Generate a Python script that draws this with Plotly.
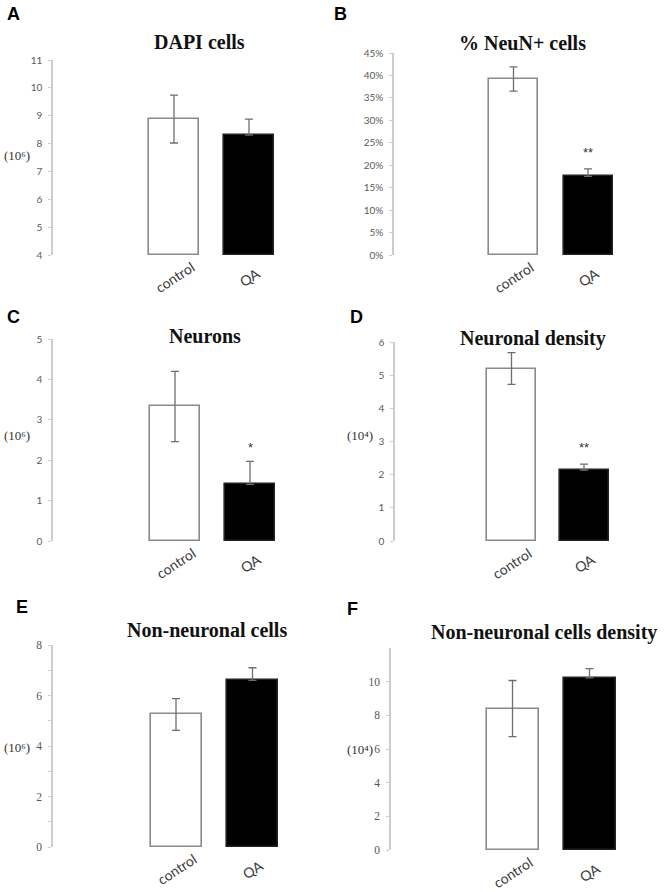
import plotly.graph_objects as go
from plotly.subplots import make_subplots

# ---------------- data ----------------
categories = ["control", "QA"]

dapi_mean = [8.88, 8.30]
dapi_sem = [0.86, 0.58]

neun_pct_mean = [39.2, 17.5]
neun_pct_sem = [2.7, 1.7]

neurons_mean = [3.33, 1.40]
neurons_sem = [0.87, 0.57]

neuronal_density_mean = [5.20, 2.14]
neuronal_density_sem = [0.48, 0.18]

nonneuronal_mean = [5.25, 6.60]
nonneuronal_sem = [0.63, 0.50]

nonneuronal_density_mean = [8.40, 10.22]
nonneuronal_density_sem = [1.67, 0.55]

titles = ["DAPI cells", "% NeuN+ cells", "Neurons", "Neuronal density",
          "Non-neuronal cells", "Non-neuronal cells density"]
letters = ["A", "B", "C", "D", "E", "F"]
units = ["(10⁶)", "", "(10⁶)", "(10⁴)", "(10⁶)", "(10⁴)"]
significance = [["", ""], ["", "**"], ["", "*"], ["", "**"], ["", ""], ["", ""]]

ticks_a = [4, 5, 6, 7, 8, 9, 10, 11]
ticks_b = [0, 5, 10, 15, 20, 25, 30, 35, 40, 45]
ticklabels_b = ["0%", "5%", "10%", "15%", "20%", "25%", "30%", "35%", "40%", "45%"]
ticks_c = [0, 1, 2, 3, 4, 5]
ticks_d = [0, 1, 2, 3, 4, 5, 6]
ticks_e = [0, 2, 4, 6, 8]
ticks_f = [0, 2, 4, 6, 8, 10]

means = [dapi_mean, neun_pct_mean, neurons_mean, neuronal_density_mean,
         nonneuronal_mean, nonneuronal_density_mean]
sems = [dapi_sem, neun_pct_sem, neurons_sem, neuronal_density_sem,
        nonneuronal_sem, nonneuronal_density_sem]
yranges = [[4, 11], [0, 45], [0, 5], [0, 6], [0, 8], [0, 12]]
tickvals = [ticks_a, ticks_b, ticks_c, ticks_d, ticks_e, ticks_f]
ticktexts = [[str(t) for t in ticks_a], ticklabels_b, [str(t) for t in ticks_c],
             [str(t) for t in ticks_d], [str(t) for t in ticks_e], [str(t) for t in ticks_f]]

# ---------------- layout geometry (pixels) ----------------
W, H = 666, 892
# axis_px, right_px, top_px, bottom_px, ctrl_center, qa_center, bar_px
geom = [
    (53, 300, 60, 255, 174, 249, 50),
    (394, 650, 53, 255, 513.5, 588, 49),
    (53, 300, 339, 541, 175, 250, 50),
    (395, 650, 342, 541, 511.5, 584, 49),
    (53, 300, 645, 847, 176, 252.5, 51),
    (391, 650, 648, 850, 512.5, 589.5, 52),
]
letter_pos = [(13, 14), (341, 14), (13, 317), (356, 317), (22, 607), (352, 609)]
title_pos = [(199, 42), (522, 43), (205, 336), (533, 339), (207, 630), (544, 632)]
unit_pos = [(32, 155), None, (32, 435), (375, 435), (32, 747), (375, 749)]
star_shift = [7, 7, 4, 7, 7, 7]
sans_ticks = [True, True, True, True, False, False]

fig = make_subplots(rows=3, cols=2)
annotations = []

for i in range(6):
    r, c = i // 2 + 1, i % 2 + 1
    ax, rp, tp, bp, cc, qc, bw = geom[i]
    gap = qc - cc
    xr = [-(cc - ax) / gap, 1 + (rp - qc) / gap]
    m, s = means[i], sems[i]
    ymin = yranges[i][0]
    lower = [s[k] if categories[k] == "control" else 0 for k in range(2)]
    fig.add_trace(go.Bar(
        x=categories, y=[v - ymin for v in m],
        base=ymin,
        width=bw / gap,
        marker=dict(color=["white", "black"],
                    line=dict(color=["#8a8a8a", "#222222"], width=1.6)),
        error_y=dict(type="data", symmetric=False, array=s, arrayminus=lower,
                     color="#6e6e6e", thickness=1.3, width=4),
        showlegend=False, hoverinfo="skip",
    ), row=r, col=c)

    xname = "xaxis" if i == 0 else f"xaxis{i+1}"
    yname = "yaxis" if i == 0 else f"yaxis{i+1}"
    if sans_ticks[i]:
        tfont = dict(family="Lato, Liberation Sans, sans-serif", size=10, color="#5a5a5a")
    else:
        tfont = dict(family="Liberation Serif, serif", size=11.5, color="#555555")
    yaxis_cfg = dict(
        domain=[1 - bp / H, 1 - tp / H], range=yranges[i], automargin=False,
        showline=True, linecolor="#cccccc", linewidth=1.5,
        ticks="outside", ticklen=3, tickcolor="#cccccc", tickwidth=1.2,
        tickvals=tickvals[i], ticktext=ticktexts[i], tickfont=tfont,
        showgrid=False, zeroline=False, ticklabelstandoff=4,
    )
    if i == 4:
        yaxis_cfg["minor"] = dict(ticks="outside", dtick=1, ticklen=3,
                                  tickcolor="#cccccc", tickwidth=1.2)
    fig.layout[yname].update(yaxis_cfg)
    fig.layout[xname].update(dict(
        domain=[ax / W, rp / W], range=xr, showline=False, showgrid=False,
        zeroline=False, ticks="", automargin=False, showticklabels=False,
    ))

    xref = "x" if i == 0 else f"x{i+1}"
    yref = "y" if i == 0 else f"y{i+1}"
    for k in range(2):
        # rotated category label, centred under its bar (Excel style)
        annotations.append(dict(
            x=categories[k], xref=xref, y=0, yref=f"{yref} domain",
            text=categories[k], showarrow=False, textangle=-33,
            xanchor="center", yanchor="middle", yshift=-22,
            font=dict(family="Lato, Liberation Sans, sans-serif", size=14, color="#3c3c3c"),
        ))
        if significance[i][k]:
            annotations.append(dict(
                x=categories[k], y=m[k] + s[k], xref=xref, yref=yref,
                text=significance[i][k], showarrow=False, yanchor="bottom",
                yshift=star_shift[i],
                font=dict(family="Liberation Sans, Arial, sans-serif", size=13, color="#333333"),
            ))

    lx, ly = letter_pos[i]
    annotations.append(dict(x=lx / W, y=1 - ly / H, xref="paper", yref="paper",
                            text=f"<b>{letters[i]}</b>", showarrow=False,
                            xanchor="center", yanchor="middle",
                            font=dict(family="Liberation Sans, Arial, sans-serif",
                                      size=18, color="black")))
    tx, ty = title_pos[i]
    annotations.append(dict(x=tx / W, y=1 - ty / H, xref="paper", yref="paper",
                            text=f"<b>{titles[i]}</b>", showarrow=False,
                            xanchor="center", yanchor="middle",
                            font=dict(family="Liberation Serif, Times New Roman, serif",
                                      size=20, color="#111111")))
    if unit_pos[i]:
        ux, uy = unit_pos[i]
        annotations.append(dict(x=ux / W, y=1 - uy / H, xref="paper", yref="paper",
                                text=units[i], showarrow=False,
                                xanchor="right", yanchor="middle",
                                font=dict(family="Liberation Serif, DejaVu Serif, serif",
                                          size=13, color="#333333")))

fig.update_layout(
    width=W, height=H, margin=dict(l=0, r=0, t=0, b=0, pad=0, autoexpand=False),
    paper_bgcolor="white", plot_bgcolor="white",
    annotations=annotations, bargap=0, hovermode=False,
)

fig.write_html("out.html", config={"displayModeBar": False},
               post_script="document.body.style.margin='0';")
